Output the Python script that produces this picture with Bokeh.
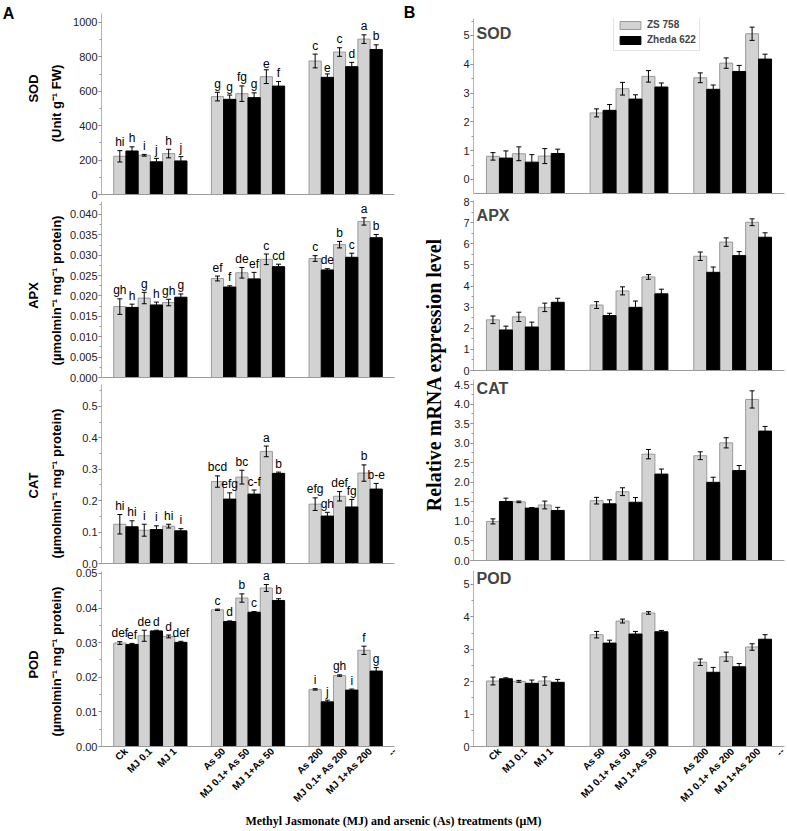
import math
from bokeh.plotting import figure
from bokeh.models import (ColumnDataSource, Whisker, TeeHead, FixedTicker,
                          SingleIntervalTicker, NumeralTickFormatter, Range1d,
                          Legend, LegendItem, Label)
from bokeh.layouts import row, column
from bokeh.embed import file_html
from bokeh.resources import INLINE
from bokeh.core.properties import value

# ---------------- data ----------------
treatments = ["Ck", "MJ 0.1", "MJ 1", "As 50", "MJ 0.1+ As 50", "MJ 1+As 50",
              "As 200", "MJ 0.1+ As 200", "MJ 1+As 200"]
end_label = "--"
cultivars = ["ZS 758", "Zheda 622"]

enzymes = ["SOD", "APX", "CAT", "POD"]
act_units = ["(Unit g\u207b\u00b9 FW)",
             "(\u00b5molmin\u207b\u00b9 mg\u207b\u00b9 protein)",
             "(\u00b5molmin\u207b\u00b9 mg\u207b\u00b9 protein)",
             "(\u00b5molmin\u207b\u00b9 mg\u207b\u00b9 protein)"]

# Panel A: enzyme activities
sod_act_zs = [222, 228, 238, 569, 586, 685, 776, 828, 903]
sod_act_zs_err = [33, 5, 25, 25, 45, 40, 40, 25, 25]
sod_act_zs_let = ["hi", "i", "h", "g", "fg", "e", "c", "c", "a"]
sod_act_zh = [253, 190, 195, 553, 563, 630, 681, 743, 843]
sod_act_zh_err = [24, 20, 25, 25, 28, 27, 20, 25, 27]
sod_act_zh_let = ["h", "j", "j", "g", "g", "f", "e", "d", "b"]

apx_act_zs = [0.0174, 0.0195, 0.0184, 0.0243, 0.0257, 0.0290, 0.0292, 0.0326, 0.0383]
apx_act_zs_err = [0.0019, 0.0014, 0.0008, 0.0006, 0.0013, 0.0013, 0.0007, 0.0008, 0.0009]
apx_act_zs_let = ["gh", "g", "gh", "ef", "de", "c", "c", "b", "a"]
apx_act_zh = [0.0172, 0.0178, 0.0197, 0.0222, 0.0242, 0.0272, 0.0264, 0.0295, 0.0343]
apx_act_zh_err = [0.0008, 0.0007, 0.0008, 0.0003, 0.0016, 0.0006, 0.0003, 0.0010, 0.0008]
apx_act_zh_let = ["h", "h", "g", "f", "ef", "cd", "de", "c", "b"]

cat_act_zs = [0.125, 0.106, 0.119, 0.261, 0.275, 0.357, 0.189, 0.214, 0.288]
cat_act_zs_err = [0.031, 0.019, 0.006, 0.018, 0.022, 0.017, 0.020, 0.015, 0.026]
cat_act_zs_let = ["hi", "i", "hi", "bcd", "bc", "a", "efg", "def", "b"]
cat_act_zh = [0.117, 0.108, 0.104, 0.205, 0.221, 0.287, 0.151, 0.180, 0.237]
cat_act_zh_err = [0.019, 0.012, 0.007, 0.020, 0.013, 0.004, 0.012, 0.024, 0.018]
cat_act_zh_let = ["hi", "i", "i", "efg", "c-f", "b", "gh", "fg", "b-e"]

pod_act_zs = [0.0299, 0.0320, 0.0318, 0.0395, 0.0429, 0.0458, 0.0165, 0.0205, 0.0278]
pod_act_zs_err = [0.0004, 0.0016, 0.0004, 0.0002, 0.0012, 0.0010, 0.0002, 0.0002, 0.0012]
pod_act_zs_let = ["def", "de", "d", "c", "b", "a", "i", "gh", "f"]
pod_act_zh = [0.0295, 0.0334, 0.0301, 0.0361, 0.0388, 0.0422, 0.0129, 0.0163, 0.0218]
pod_act_zh_err = [0.0003, 0.0002, 0.0003, 0.0002, 0.0002, 0.0005, 0.0005, 0.0003, 0.0010]
pod_act_zh_let = ["ef", "d", "def", "d", "c", "b", "j", "i", "g"]

# Panel B: relative mRNA expression
sod_exp_zs = [0.80, 0.89, 0.81, 2.31, 3.15, 3.58, 3.53, 4.04, 5.06]
sod_exp_zs_err = [0.13, 0.24, 0.26, 0.14, 0.22, 0.20, 0.17, 0.18, 0.23]
sod_exp_zh = [0.74, 0.60, 0.90, 2.40, 2.79, 3.21, 3.13, 3.75, 4.18]
sod_exp_zh_err = [0.25, 0.26, 0.15, 0.20, 0.15, 0.14, 0.15, 0.21, 0.17]

apx_exp_zs = [2.40, 2.54, 2.99, 3.10, 3.77, 4.43, 5.41, 6.08, 7.02]
apx_exp_zs_err = [0.18, 0.22, 0.20, 0.16, 0.19, 0.11, 0.20, 0.20, 0.16]
apx_exp_zh = [1.92, 2.06, 3.23, 2.60, 2.99, 3.63, 4.65, 5.44, 6.31]
apx_exp_zh_err = [0.18, 0.23, 0.19, 0.11, 0.30, 0.22, 0.25, 0.19, 0.21]

cat_exp_zs = [1.00, 1.50, 1.42, 1.53, 1.76, 2.72, 2.68, 3.01, 4.12]
cat_exp_zs_err = [0.065, 0.02, 0.10, 0.085, 0.10, 0.12, 0.10, 0.13, 0.22]
cat_exp_zh = [1.51, 1.34, 1.28, 1.45, 1.49, 2.21, 2.00, 2.30, 3.31]
cat_exp_zh_err = [0.085, 0.015, 0.08, 0.10, 0.12, 0.13, 0.13, 0.13, 0.12]

pod_exp_zs = [2.02, 2.01, 2.02, 3.45, 3.87, 4.12, 2.60, 2.77, 3.07]
pod_exp_zs_err = [0.12, 0.03, 0.13, 0.10, 0.06, 0.04, 0.10, 0.14, 0.10]
pod_exp_zh = [2.09, 1.95, 1.98, 3.19, 3.47, 3.54, 2.29, 2.46, 3.31]
pod_exp_zh_err = [0.03, 0.10, 0.09, 0.09, 0.08, 0.04, 0.15, 0.10, 0.14]

x_title = "Methyl Jasmonate (MJ) and arsenic (As) treatments (\u03bcM)"
y_title_b = "Relative mRNA expression level"

# ---------------- styling / layout ----------------
FONT = "Liberation Sans"
SERIF = "Liberation Serif"
GREY = "#d2d2d2"
GREY_LINE = "#9a9a9a"

GROUP = 3
positions = [i + i // GROUP + 1 for i in range(len(treatments))]
end_pos = positions[-1] + 1
tick_pos = positions + [end_pos]
tick_labels = {p: t for p, t in zip(positions, treatments)}
tick_labels[end_pos] = end_label

COL_H = 810


def panel(width, height, bl, br, bt, bb, y_start, y_end, interval, fmt,
          zs, zs_err, zh, zh_err, zs_let=None, zh_let=None, bottom=False,
          name=None, name_off=15):
    p = figure(width=width, height=height, x_range=Range1d(0, end_pos),
               y_range=Range1d(y_start, y_end), toolbar_location=None,
               output_backend="svg", title=None,
               min_border_left=bl, min_border_right=br,
               min_border_top=bt, min_border_bottom=bb)
    p.outline_line_color = None
    p.grid.visible = False
    frame_h = height - bt - bb
    upp = (y_end - y_start) / frame_h  # data units per pixel

    xs_zs = [x - 0.25 for x in positions]
    xs_zh = [x + 0.25 for x in positions]
    r1 = p.vbar(x=xs_zs, top=zs, bottom=y_start, width=0.5, fill_color=GREY,
                line_color=GREY_LINE, line_width=1)
    r2 = p.vbar(x=xs_zh, top=zh, bottom=y_start, width=0.5, fill_color="black",
                line_color="black", line_width=1)
    for xs, vals, errs, lets in ((xs_zs, zs, zs_err, zs_let), (xs_zh, zh, zh_err, zh_let)):
        up = [v + e for v, e in zip(vals, errs)]
        lo = [v - e for v, e in zip(vals, errs)]
        src = ColumnDataSource(dict(x=xs, upper=up, lower=lo))
        w = Whisker(source=src, base="x", upper="upper", lower="lower",
                    line_color="black", line_width=1, level="overlay",
                    upper_head=TeeHead(size=5, line_color="black", line_width=1),
                    lower_head=TeeHead(size=5, line_color="black", line_width=1))
        p.add_layout(w)
        if lets:
            p.text(x=xs, y=[u + 1.5 * upp for u in up], text=lets,
                   text_align="center", text_baseline="bottom",
                   text_font=value(FONT), text_font_size="12px", text_color="black")

    ya = p.yaxis[0]
    ya.ticker = SingleIntervalTicker(interval=interval, num_minor_ticks=2)
    ya.formatter = NumeralTickFormatter(format=fmt)
    ya.axis_line_color = "#b4b4b4"
    ya.major_tick_line_color = "#777777"
    ya.major_tick_out = 3
    ya.major_tick_in = 0
    ya.minor_tick_line_color = "#9a9a9a"
    ya.minor_tick_out = 2
    ya.minor_tick_in = 0
    ya.major_label_text_font = FONT
    ya.major_label_text_font_size = "11px"
    ya.major_label_text_color = "#222222"
    ya.major_label_standoff = 1

    xa = p.xaxis[0]
    xa.ticker = FixedTicker(ticks=tick_pos)
    xa.axis_line_color = "#9a9a9a"
    xa.major_tick_line_color = None
    xa.minor_tick_line_color = None
    xa.major_tick_out = 0
    xa.major_tick_in = 0
    if bottom:
        xa.major_label_overrides = tick_labels
        xa.major_label_orientation = math.pi / 4
        xa.major_label_text_font = FONT
        xa.major_label_text_font_style = "bold"
        xa.major_label_text_font_size = "10px"
        xa.major_label_text_color = "black"
        xa.major_label_standoff = 3
    else:
        xa.major_label_overrides = {t: "" for t in tick_pos}
        xa.major_label_text_font_size = "0px"
        xa.major_label_standoff = 0

    if name:
        p.add_layout(Label(x=0.12, y=y_end - name_off * upp, text=name,
                           text_font=FONT, text_font_style="bold",
                           text_font_size="16px", text_baseline="middle",
                           text_align="left"))
    return p, r1, r2


def text_strip(width, height):
    s = figure(width=width, height=height, x_range=Range1d(0, width),
               y_range=Range1d(0, height), toolbar_location=None,
               output_backend="svg", title=None, x_axis_type=None,
               y_axis_type=None, min_border=0)
    s.outline_line_color = None
    s.grid.visible = False
    return s


# ----- panel A (left) -----
LW, LBL, LBR = 334, 34, 6
a_sod, _, _ = panel(LW, 199, LBL, LBR, 13, 5, 0, 1052, 200, "0",
                    sod_act_zs, sod_act_zs_err, sod_act_zh, sod_act_zh_err,
                    sod_act_zs_let, sod_act_zh_let)
a_apx, _, _ = panel(LW, 183, LBL, LBR, 2, 5, 0, 0.04319, 0.005, "0.000",
                    apx_act_zs, apx_act_zs_err, apx_act_zh, apx_act_zh_err,
                    apx_act_zs_let, apx_act_zh_let)
a_cat, _, _ = panel(LW, 186, LBL, LBR, 2, 5, 0, 0.570, 0.1, "0.0",
                    cat_act_zs, cat_act_zs_err, cat_act_zh, cat_act_zh_err,
                    cat_act_zs_let, cat_act_zh_let)
a_pod, _, _ = panel(LW, 242, LBL, LBR, 3, 62, 0, 0.05057, 0.01, "0.00",
                    pod_act_zs, pod_act_zs_err, pod_act_zh, pod_act_zh_err,
                    pod_act_zs_let, pod_act_zh_let, bottom=True)

# left strip: letter A + y titles of panel A
left_strip = text_strip(66, COL_H)
left_strip.text(x=[8], y=[COL_H - 13], text=["A"], text_align="center",
                text_baseline="middle", text_font=value(FONT),
                text_font_style="bold", text_font_size="16px", text_color="black")
name_y = [88, 295, 485, 664]     # screen rows of the enzyme names
unit_y = [103, 290, 483, 661]    # screen rows of the unit lines
left_strip.text(x=[33] * 4, y=[COL_H - v for v in name_y], text=enzymes,
                angle=math.pi / 2, text_align="center", text_baseline="middle",
                text_font=value(FONT), text_font_style="bold",
                text_font_size="13px", text_color="black")
left_strip.text(x=[56] * 4, y=[COL_H - v for v in unit_y], text=act_units,
                angle=math.pi / 2, text_align="center", text_baseline="middle",
                text_font=value(FONT), text_font_style="bold",
                text_font_size="13px", text_color="black")

# ----- panel B (right) -----
RW, RBL, RBR = 337, 24, 2
b_sod, rz, rh = panel(RW, 197, RBL, RBR, 18, 4, -0.49, 5.59, 1, "0",
                      sod_exp_zs, sod_exp_zs_err, sod_exp_zh, sod_exp_zh_err,
                      name=enzymes[0], name_off=15)
b_apx, _, _ = panel(RW, 179, RBL, RBR, 3, 6, 0, 8.05, 1, "0",
                    apx_exp_zs, apx_exp_zs_err, apx_exp_zh, apx_exp_zh_err,
                    name=enzymes[1], name_off=15)
b_cat, _, _ = panel(RW, 189, RBL, RBR, 3, 5, 0, 4.63, 0.5, "0.0",
                    cat_exp_zs, cat_exp_zs_err, cat_exp_zh, cat_exp_zh_err,
                    name=enzymes[2], name_off=9)
b_pod, _, _ = panel(RW, 245, RBL, RBR, 5, 62, 0, 5.43, 1, "0",
                    pod_exp_zs, pod_exp_zs_err, pod_exp_zh, pod_exp_zh_err,
                    bottom=True, name=enzymes[3], name_off=8)

legend = Legend(items=[LegendItem(label=cultivars[0], renderers=[rz]),
                       LegendItem(label=cultivars[1], renderers=[rh])],
                location=(140, 142), label_text_font=FONT,
                label_text_font_size="10px", label_text_font_style="bold",
                glyph_width=26, glyph_height=10, label_height=15,
                label_standoff=4, padding=3, spacing=0, margin=0,
                border_line_color="#c8c8c8", background_fill_color="white",
                background_fill_alpha=1)
b_sod.add_layout(legend)

# middle strip: letter B + shared y title of panel B
mid = text_strip(49, COL_H)
mid.text(x=[33], y=[COL_H - 374], text=[y_title_b], angle=math.pi / 2,
         text_align="center", text_baseline="middle",
         text_font=value(SERIF), text_font_style="bold", text_font_size="20px",
         text_color="black")
mid.text(x=[9], y=[COL_H - 12], text=["B"], text_align="center", text_baseline="middle",
         text_font=value(FONT), text_font_style="bold", text_font_size="16px",
         text_color="black")

# bottom strip: shared x title
bot = text_strip(786, 20)
bot.text(x=[393], y=[10], text=[x_title], text_align="center", text_baseline="middle",
         text_font=value(SERIF), text_font_style="bold", text_font_size="12px",
         text_color="black")

left_col = column(a_sod, a_apx, a_cat, a_pod)
right_col = column(b_sod, b_apx, b_cat, b_pod)
layout = column(row(left_strip, left_col, mid, right_col), bot)

open("out.html", "w").write(file_html(layout, INLINE, title="plot"))
